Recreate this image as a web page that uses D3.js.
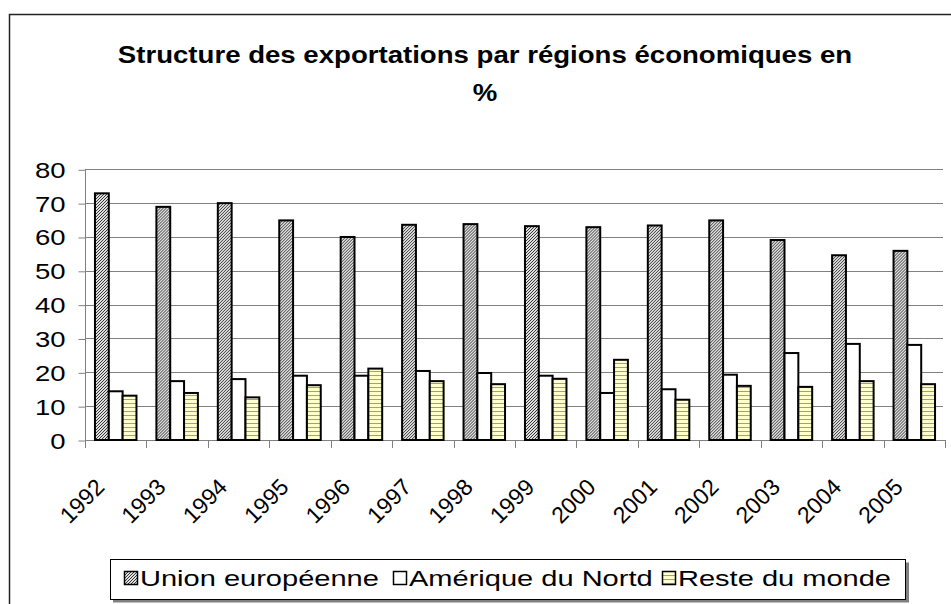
<!DOCTYPE html>
<html><head><meta charset="utf-8">
<script src="https://cdn.jsdelivr.net/npm/d3@7"></script>
<style>body{margin:0;background:#fff}svg{display:block}text{font-family:Arial,"Liberation Sans",sans-serif}</style>
</head><body>
<svg id="c" width="951" height="604"></svg>
<script>
const years = ["1992","1993","1994","1995","1996","1997","1998","1999","2000","2001","2002","2003","2004","2005"];
const unionEuropeenne = [72.9,68.9,70.0,64.9,60.0,63.6,63.8,63.2,62.9,63.4,64.9,59.1,54.6,55.9];
const ameriqueDuNord = [14.4,17.4,18.0,19.0,19.0,20.4,19.8,19.0,13.9,15.0,19.3,25.7,28.4,28.1];
const resteDuMonde = [13.1,13.9,12.6,16.2,21.1,17.4,16.5,18.1,23.7,11.9,16.0,15.7,17.4,16.5];
const seriesNames = ["Union européenne","Amérique du Nortd","Reste du monde"];
const yTicks = [0,10,20,30,40,50,60,70,80];
const titleLines = ["Structure des exportations par régions économiques en","%"];

const svg = d3.select("#c");
const defs = svg.append("defs");
const p1 = defs.append("pattern").attr("id","pUE").attr("patternUnits","userSpaceOnUse").attr("width",3).attr("height",3);
p1.append("rect").attr("width",3).attr("height",3).attr("fill","#e0e0e0");
p1.append("path").attr("d","M-1,1 L1,-1 M0,3 L3,0 M2,4 L4,2").attr("stroke","#222").attr("stroke-width",0.9);
const p3 = defs.append("pattern").attr("id","pRM").attr("patternUnits","userSpaceOnUse").attr("width",4).attr("height",4);
p3.append("rect").attr("width",4).attr("height",4).attr("fill","#ffffcc");
p3.append("rect").attr("y",3).attr("width",4).attr("height",1).attr("fill","#a0a088");
const fills = ["url(#pUE)","#ffffff","url(#pRM)"];

svg.append("rect").attr("x",9.5).attr("y",14.5).attr("width",1200).attr("height",1200)
  .attr("fill","none").attr("stroke","#222").attr("stroke-width",1.5);

const L=85,R=945,T=169.3,B=440;
const x = d3.scaleBand().domain(years).range([L,R]).padding(0);
const y = d3.scaleLinear().domain([0,80]).range([B,T]);
const x1 = d3.scaleBand().domain(seriesNames).range([0,x.bandwidth()]).paddingInner(0).paddingOuter(0.72);

svg.append("g").selectAll("line").data(yTicks.filter(d=>d>0)).join("line")
  .attr("x1",L).attr("x2",R-2).attr("y1",d=>Math.round(y(d))+0.5).attr("y2",d=>Math.round(y(d))+0.5)
  .attr("stroke","#808080").attr("stroke-width",1);

const ya = svg.append("g").attr("transform",`translate(${L+0.5},0)`)
  .call(d3.axisLeft(y).tickValues(yTicks).tickSize(7).tickFormat(d3.format("d")).tickPadding(0));
ya.select(".domain").attr("stroke","#808080").attr("d",`M0,${T}V${B}`);
ya.selectAll(".tick line").attr("stroke","#808080").attr("y1",0.5).attr("y2",0.5);
ya.selectAll(".tick text").attr("x",null).attr("dy",null)
  .attr("transform","translate(-20,8) scale(1.25,1)").attr("text-anchor","end")
  .attr("font-size",22).attr("fill","#000");

const xa = svg.append("g").attr("transform",`translate(0,${B+0.5})`)
  .call(d3.axisBottom(x).tickSize(0).tickFormat(d=>d));
xa.select(".domain").attr("stroke","#808080").attr("d",`M${L},0H${R}`);
xa.selectAll(".tick text").attr("y",null).attr("dy",null)
  .attr("transform","translate(-10,48) rotate(-45)").attr("text-anchor","end")
  .attr("font-size",23).attr("fill","#000");
svg.append("g").selectAll("line").data(d3.range(years.length+1)).join("line")
  .attr("x1",i=>Math.round(L+i*x.step())+0.5).attr("x2",i=>Math.round(L+i*x.step())+0.5)
  .attr("y1",B).attr("y2",B+8).attr("stroke","#808080");

const data = years.map((yr,i)=>({yr, vals:[unionEuropeenne[i],ameriqueDuNord[i],resteDuMonde[i]]}));
const grp = svg.append("g").selectAll("g").data(data).join("g").attr("transform",d=>`translate(${x(d.yr)},0)`);
grp.selectAll("rect").data(d=>d.vals.map((v,k)=>({v,k}))).join("rect")
  .attr("x",d=>x1(seriesNames[d.k])).attr("width",x1.bandwidth())
  .attr("y",d=>y(d.v)).attr("height",d=>B-y(d.v))
  .attr("fill",d=>fills[d.k]).attr("stroke","#000").attr("stroke-width",2);

svg.append("g").selectAll("text").data(titleLines).join("text")
  .attr("transform",(d,i)=>`translate(485,${63+i*38}) scale(1.2,1.05)`)
  .attr("text-anchor","middle").attr("font-size",23).attr("font-weight","bold").text(d=>d);

// legend
const boxL = 110;
svg.append("rect").attr("x",boxL+3).attr("y",562.5).attr("width",906-boxL).attr("height",40).attr("fill","#808080");
svg.append("rect").attr("x",boxL+0.5).attr("y",559.5).attr("width",905-boxL).attr("height",40).attr("fill","#fff").attr("stroke","#000");
const legX = [124,393,662];
const lg = svg.append("g").selectAll("g").data(seriesNames).join("g").attr("transform",(d,i)=>`translate(${legX[i]},0)`);
lg.append("rect").attr("x",0.5).attr("y",571.5).attr("width",13).attr("height",13)
  .attr("fill",(d,i)=>fills[i]).attr("stroke","#000").attr("stroke-width",1.5);
lg.append("text").attr("transform","translate(16,586) scale(1.32,1)").attr("font-size",22).text(d=>d);
</script>
</body></html>
